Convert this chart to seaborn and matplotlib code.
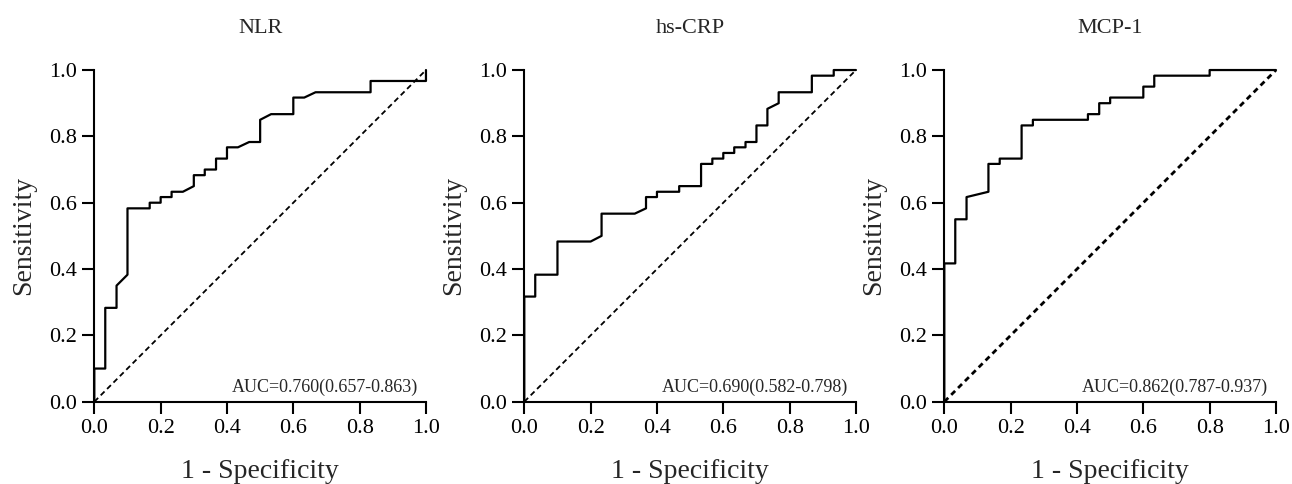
import matplotlib
matplotlib.use('Agg')
import seaborn as sns
from matplotlib import pyplot as plt

# ROC curve vertices (1 - specificity, sensitivity)
nlr_fpr = [0, 0, 0.033, 0.033, 0.067, 0.067, 0.10, 0.10, 0.167, 0.167, 0.20, 0.20,
           0.233, 0.233, 0.267, 0.30, 0.30, 0.333, 0.333, 0.367, 0.367, 0.40, 0.40,
           0.433, 0.467, 0.50, 0.50, 0.533, 0.60, 0.60, 0.633, 0.667, 0.833, 0.833,
           1.0, 1.0]
nlr_tpr = [0, 0.10, 0.10, 0.283, 0.283, 0.35, 0.383, 0.583, 0.583, 0.60, 0.60, 0.617,
           0.617, 0.633, 0.633, 0.65, 0.683, 0.683, 0.70, 0.70, 0.733, 0.733, 0.767,
           0.767, 0.783, 0.783, 0.85, 0.867, 0.867, 0.917, 0.917, 0.933, 0.933, 0.967,
           0.967, 1.0]

crp_fpr = [0, 0, 0.033, 0.033, 0.10, 0.10, 0.20, 0.233, 0.233, 0.333, 0.367, 0.367,
           0.40, 0.40, 0.467, 0.467, 0.533, 0.533, 0.567, 0.567, 0.60, 0.60, 0.633,
           0.633, 0.667, 0.667, 0.70, 0.70, 0.733, 0.733, 0.767, 0.767, 0.867, 0.867,
           0.933, 0.933, 1.0]
crp_tpr = [0, 0.317, 0.317, 0.383, 0.383, 0.483, 0.483, 0.50, 0.567, 0.567, 0.583,
           0.617, 0.617, 0.633, 0.633, 0.65, 0.65, 0.717, 0.717, 0.733, 0.733, 0.75,
           0.75, 0.767, 0.767, 0.783, 0.783, 0.833, 0.833, 0.883, 0.90, 0.933, 0.933,
           0.983, 0.983, 1.0, 1.0]

mcp_fpr = [0, 0, 0.033, 0.033, 0.067, 0.067, 0.133, 0.133, 0.167, 0.167, 0.233, 0.233,
           0.267, 0.267, 0.433, 0.433, 0.467, 0.467, 0.50, 0.50, 0.60, 0.60, 0.633,
           0.633, 0.80, 0.80, 1.0]
mcp_tpr = [0, 0.417, 0.417, 0.55, 0.55, 0.617, 0.633, 0.717, 0.717, 0.733, 0.733, 0.833,
           0.833, 0.85, 0.85, 0.867, 0.867, 0.90, 0.90, 0.917, 0.917, 0.95, 0.95,
           0.983, 0.983, 1.0, 1.0]

titles = ['NLR', 'hs-CRP', 'MCP-1']
auc_labels = ['AUC=0.760(0.657-0.863)', 'AUC=0.690(0.582-0.798)', 'AUC=0.862(0.787-0.937)']
ticks = [0.0, 0.2, 0.4, 0.6, 0.8, 1.0]

sns.set_theme(style='ticks')
plt.rcParams['font.family'] = ['Liberation Serif', 'DejaVu Serif']

fig = plt.figure(figsize=(12.92, 4.84), dpi=100)
lefts = [0.073, 0.4058, 0.7309]
curves = [(nlr_fpr, nlr_tpr), (crp_fpr, crp_tpr), (mcp_fpr, mcp_tpr)]
diag_lw = [1.3, 1.3, 2.0]
diag_dash = [(0, (3, 2)), (0, (3, 2)), (0, (2, 1.5))]

for i in range(3):
    ax = fig.add_axes([lefts[i], 0.170, 0.2567, 0.6853])
    fpr, tpr = curves[i]
    sns.lineplot(x=fpr, y=tpr, sort=False, estimator=None, color='black',
                 linewidth=1.6, ax=ax, clip_on=False)
    sns.lineplot(x=[0, 1], y=[0, 1], sort=False, estimator=None, color='black',
                 linewidth=diag_lw[i], linestyle=diag_dash[i], ax=ax, clip_on=False)
    ax.set_xlim(0, 1)
    ax.set_ylim(0, 1)
    ax.set_xticks(ticks)
    ax.set_yticks(ticks)
    ax.set_xticklabels([f'{t:.1f}' for t in ticks])
    ax.set_yticklabels([f'{t:.1f}' for t in ticks])
    sns.despine(ax=ax)
    for s in ['left', 'bottom']:
        ax.spines[s].set_linewidth(1.5)
        ax.spines[s].set_color('black')
    ax.tick_params(direction='out', length=8.6, width=1.5, labelsize=16, pad=4,
                   colors='black')
    ax.set_title(titles[i], fontsize=16, pad=27)
    ax.set_xlabel('1 - Specificity', fontsize=20, labelpad=15)
    ax.set_ylabel('Sensitivity', fontsize=20, labelpad=9)
    ax.text(0.977, 0.03, auc_labels[i], transform=ax.transAxes, ha='right',
            va='baseline', fontsize=13)

fig.savefig('out.png', dpi=100)
